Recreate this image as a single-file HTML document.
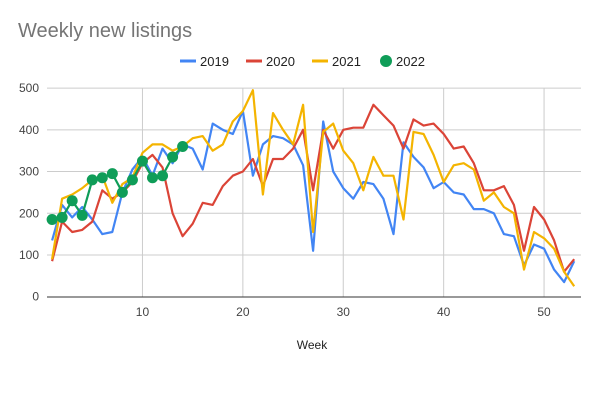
<!DOCTYPE html>
<html><head><meta charset="utf-8"><style>
body{margin:0;background:#fff}
svg{display:block;font-family:"Liberation Sans",Arial,sans-serif}
</style></head><body>
<svg id="c" width="600" height="403" viewBox="0 0 600 403" xmlns="http://www.w3.org/2000/svg">
<rect width="600" height="403" fill="#fff"/>
<text x="18" y="37" font-size="20" fill="#757575">Weekly new listings</text>
<g font-size="13" fill="#222">
<line x1="180" y1="61" x2="196" y2="61" stroke="#4285f4" stroke-width="3"/><text x="200" y="66">2019</text>
<line x1="246" y1="61" x2="262" y2="61" stroke="#db4437" stroke-width="3"/><text x="266" y="66">2020</text>
<line x1="312" y1="61" x2="328" y2="61" stroke="#f4b400" stroke-width="3"/><text x="332" y="66">2021</text>
<circle cx="386" cy="61" r="6" fill="#0f9d58"/><text x="396" y="66">2022</text>
</g>
<g id="grid" stroke="#ccc" stroke-width="1"></g>
<g id="lbl" font-size="12" fill="#444"></g>
<text x="312" y="349" font-size="12" fill="#222" text-anchor="middle">Week</text>
<g id="ser" fill="none" stroke-width="2.2" stroke-linejoin="round"></g>
</svg>
<script>
var X=function(w){return 52.1+(w-1)*10.04},Y=function(v){return 296.7-v*0.4172};
var ns="http://www.w3.org/2000/svg",g=document.getElementById('grid'),l=document.getElementById('lbl'),s=document.getElementById('ser');
function el(p,t,a,txt){var e=document.createElementNS(ns,t);for(var k in a)e.setAttribute(k,a[k]);if(txt)e.textContent=txt;p.appendChild(e);return e}
for(var v=100;v<=500;v+=100){el(g,'line',{x1:47,x2:581,y1:Y(v),y2:Y(v)});}
for(var w=10;w<=50;w+=10){el(g,'line',{x1:X(w),x2:X(w),y1:88,y2:297});el(l,'text',{x:X(w),y:316,'text-anchor':'middle'},''+w);}
for(var v=0;v<=500;v+=100){el(l,'text',{x:39,y:Y(v)+4,'text-anchor':'end'},''+v);}
el(g,'line',{x1:47,x2:581,y1:297,y2:297,stroke:'#333'});
var d={
'#4285f4':[135,220,190,215,185,150,155,250,305,335,290,355,320,365,355,305,415,400,390,445,290,365,385,380,365,315,110,420,300,260,235,275,270,235,150,370,335,310,260,275,250,245,210,210,200,150,145,75,125,115,65,35,85],
'#db4437':[85,180,155,160,180,255,235,250,275,320,340,310,200,145,175,225,220,265,290,300,330,265,330,330,355,400,255,400,355,400,405,405,460,435,410,355,425,410,415,390,355,360,320,255,255,265,220,110,215,185,135,60,90],
'#f4b400':[90,235,245,260,280,290,225,270,285,345,365,365,350,360,380,385,350,365,420,445,495,245,440,400,365,460,155,395,415,350,320,255,335,290,290,185,395,390,340,275,315,320,305,230,250,215,200,65,155,140,115,60,25],
'#0f9d58':[185,190,230,195,280,285,295,250,280,325,285,290,335,360]};
for(var c in d){var p=d[c].map(function(v,i){return X(i+1).toFixed(1)+','+Y(v).toFixed(1)}).join(' ');
el(s,'polyline',{points:p,stroke:c});
if(c=='#0f9d58')d[c].forEach(function(v,i){el(s,'circle',{cx:X(i+1),cy:Y(v),r:5.5,fill:c,stroke:'none'})});}
</script>
</body></html>
